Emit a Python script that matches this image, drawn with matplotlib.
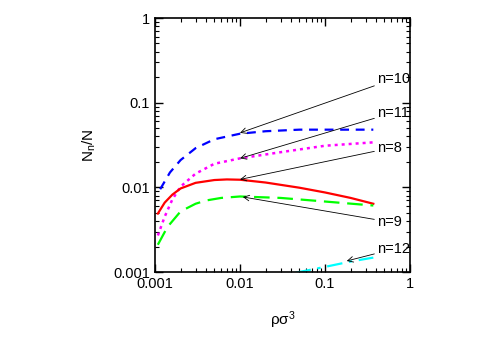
import numpy as np
import matplotlib
matplotlib.use('Agg')
import matplotlib.pyplot as plt
from matplotlib.ticker import FixedLocator, LogLocator, NullFormatter

plt.rcParams['font.family'] = ['Liberation Sans', 'DejaVu Sans']
plt.rcParams['mathtext.fontset'] = 'custom'
plt.rcParams['mathtext.rm'] = 'Liberation Sans'
plt.rcParams['mathtext.it'] = 'Liberation Sans'

# ── Données ──────────────────────────────────────────────────────────────────
x_n10 = [0.00115, 0.0015, 0.002, 0.003, 0.005, 0.01, 0.02, 0.05, 0.1, 0.2, 0.37]
y_n10 = [0.0095, 0.015, 0.021, 0.029, 0.037, 0.043, 0.046, 0.048, 0.048, 0.048, 0.048]

x_n11 = [0.00108, 0.0013, 0.0016, 0.002, 0.003, 0.005, 0.01, 0.03, 0.1, 0.37]
y_n11 = [0.0027, 0.0045, 0.0072, 0.0102, 0.0145, 0.019, 0.022, 0.026, 0.031, 0.034]

x_n8 = [0.00108, 0.0013, 0.0016, 0.002, 0.003, 0.005, 0.007, 0.01, 0.02, 0.05, 0.1, 0.2, 0.37]
y_n8 = [0.0049, 0.0066, 0.0082, 0.0097, 0.0113, 0.0122, 0.0124, 0.0123, 0.0114, 0.0099, 0.0087, 0.0075, 0.0064]

x_n9 = [0.00108, 0.0014, 0.002, 0.003, 0.004, 0.006, 0.01, 0.03, 0.1, 0.37]
y_n9 = [0.0021, 0.0034, 0.0052, 0.0064, 0.0070, 0.0075, 0.0078, 0.0075, 0.0068, 0.0061]

x_n12 = [0.045, 0.1, 0.2, 0.37]
y_n12 = [0.00098, 0.00115, 0.00133, 0.00148]

# étiquettes : (texte, position du texte, point visé)
labels = [('n=10', (0.41, 0.19),    (0.01, 0.044)),
          ('n=11', (0.41, 0.076),   (0.01, 0.022)),
          ('n=8',  (0.41, 0.029),   (0.01, 0.0124)),
          ('n=9',  (0.41, 0.0039),  (0.0108, 0.0077)),
          ('n=12', (0.41, 0.00187), (0.18, 0.00135))]

tick_vals = [0.001, 0.01, 0.1, 1]
tick_labels = ['0.001', '0.01', '0.1', '1']

# ── Figure ───────────────────────────────────────────────────────────────────
fig = plt.figure(figsize=(4.85, 3.39), dpi=100)
ax = fig.add_axes([0.3196, 0.1976, 0.5258, 0.7493])

ax.plot(x_n10, y_n10, color='#0000ff', lw=1.6, dashes=(4, 3))
ax.plot(x_n11, y_n11, color='#ff00ff', lw=1.8, dashes=(1.2, 1.6))
ax.plot(x_n8, y_n8, color='#ff0000', lw=1.6)
ax.plot(x_n9, y_n9, color='#00ff00', lw=1.6, dashes=(7, 3.5))
ax.plot(x_n12, y_n12, color='#00ffff', lw=1.6, dashes=(7, 3, 1.5, 3))

for txt, pos, pt in labels:
    ax.annotate(txt, xy=pt, xytext=pos, fontsize=10.5, ha='left', va='center',
                arrowprops=dict(arrowstyle='->', color='black', lw=0.6,
                                shrinkA=0, shrinkB=0, mutation_scale=10))

ax.set_xscale('log')
ax.set_yscale('log')
ax.set_xlim(0.001, 1)
ax.set_ylim(0.001, 1)

ax.xaxis.set_major_locator(FixedLocator(tick_vals))
ax.yaxis.set_major_locator(FixedLocator(tick_vals))
ax.set_xticklabels(tick_labels)
ax.set_yticklabels(tick_labels)
for a in (ax.xaxis, ax.yaxis):
    a.set_minor_locator(LogLocator(base=10, subs=np.arange(2, 10)))
    a.set_minor_formatter(NullFormatter())

ax.tick_params(which='both', direction='in', top=True, right=True, labelsize=10.5)
ax.tick_params(which='major', length=6, width=1)
ax.tick_params(which='minor', length=3, width=0.8)
for s in ax.spines.values():
    s.set_linewidth(1.2)

ax.set_xlabel(r'ρσ$^\mathregular{3}$', fontsize=11, labelpad=13)
ax.set_ylabel(r'N$_\mathregular{n}$/N', fontsize=11, labelpad=11)

plt.savefig('out.png', dpi=100)
